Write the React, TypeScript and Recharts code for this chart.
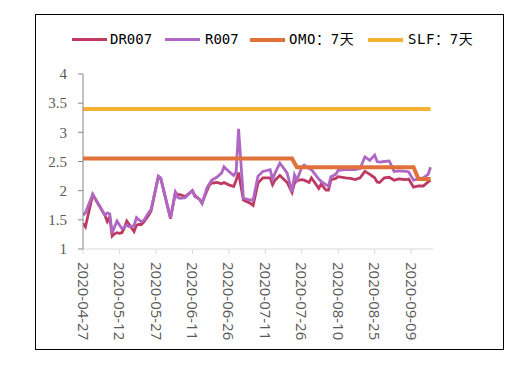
import React from 'react';
import { LineChart, Line, XAxis, YAxis } from 'recharts';

// day offsets from 2020-04-27
const dayOffsets = [
  0, 1, 4, 9, 10, 11, 12, 13, 14, 15, 16, 17, 18, 19, 21, 22, 23, 24, 25, 27, 28,
  31, 32, 36, 38, 39, 40, 42, 45, 46, 48, 49, 51, 52, 53, 55, 57, 58, 60, 62, 63,
  64, 66, 69, 70, 72, 74, 76, 77, 78, 79, 81, 83, 84, 86, 87, 88, 90, 91, 93, 94,
  97, 98, 100, 101, 102, 104, 105, 108, 110, 112, 114, 116, 118, 120, 121, 122,
  124, 126, 128, 130, 133, 134, 136, 138, 140, 142, 143,
];
const dr007 = [
  1.44, 1.38, 1.93, 1.58, 1.47, 1.55, 1.22, 1.26, 1.28, 1.27, 1.28, 1.36, 1.48, 1.42, 1.3, 1.41, 1.42, 1.42, 1.46, 1.58, 1.65,
  2.24, 2.2, 1.52, 1.97, 1.93, 1.93, 1.9, 2.0, 1.92, 1.85, 1.79, 2.0, 2.1, 2.13, 2.14, 2.12, 2.14, 2.1, 2.07, 2.18,
  2.31, 1.84, 1.78, 1.75, 2.13, 2.22, 2.22, 2.22, 2.1, 2.18, 2.26, 2.18, 2.14, 1.97, 2.13, 2.17, 2.19, 2.18, 2.14, 2.22,
  2.04, 2.11, 2.01, 2.01, 2.19, 2.21, 2.24, 2.22, 2.21, 2.19, 2.22, 2.33, 2.28, 2.22, 2.15, 2.14,
  2.22, 2.23, 2.18, 2.2, 2.19, 2.2, 2.06, 2.08, 2.08, 2.15, 2.18,
];
const r007 = [
  1.58, 1.62, 1.94, 1.58, 1.62, 1.6, 1.27, 1.38, 1.48, 1.41, 1.35, 1.37, 1.41, 1.38, 1.4, 1.54, 1.5, 1.47, 1.49, 1.62, 1.68,
  2.25, 2.22, 1.53, 1.97, 1.88, 1.87, 1.88, 2.0, 1.9, 1.85, 1.78, 2.05, 2.12, 2.18, 2.23, 2.3, 2.41, 2.33, 2.26, 2.32,
  3.06, 1.87, 1.84, 1.84, 2.25, 2.33, 2.35, 2.36, 2.2, 2.3, 2.47, 2.36, 2.3, 1.98, 2.27, 2.18, 2.4, 2.44, 2.38, 2.36,
  2.2, 2.16, 2.1, 2.08, 2.24, 2.28, 2.35, 2.36, 2.36, 2.36, 2.38, 2.58, 2.52, 2.61, 2.5, 2.49,
  2.5, 2.51, 2.33, 2.34, 2.33, 2.32, 2.18, 2.2, 2.22, 2.28, 2.4,
];
const omoDays = [0, 86, 88, 136, 138, 143];
const omoValues = [2.55, 2.55, 2.4, 2.4, 2.2, 2.2];
const slfDays = [0, 143];
const slfValues = [3.4, 3.4];

const xTickDays = [0, 15, 30, 45, 60, 75, 90, 105, 120, 135];
const xTickLabels = [
  '2020-04-27', '2020-05-12', '2020-05-27', '2020-06-11', '2020-06-26',
  '2020-07-11', '2020-07-26', '2020-08-10', '2020-08-25', '2020-09-09',
];
const yTicks = [1, 1.5, 2, 2.5, 3, 3.5, 4];
const seriesNames = ['DR007', 'R007', 'OMO：7天', 'SLF：7天'];
const seriesColors = ['#BE3A62', '#AE68C4', '#E2703A', '#F6B234'];

const drData = dayOffsets.map((d, i) => ({ d, v: dr007[i] }));
const rData = dayOffsets.map((d, i) => ({ d, v: r007[i] }));
const omoData = omoDays.map((d, i) => ({ d, v: omoValues[i] }));
const slfData = slfDays.map((d, i) => ({ d, v: slfValues[i] }));

const XTick = (props: any) => {
  const { x, y, payload } = props;
  const idx = xTickDays.indexOf(payload.value);
  return (
    <g transform={`translate(${x},${y})`}>
      <text
        transform="rotate(90)"
        x={0}
        y={0}
        dy="0.36em"
        textAnchor="start"
        fill="#595959"
        fontSize={15}
        fontFamily="'Open Sans', sans-serif"
      >
        {idx >= 0 ? xTickLabels[idx] : ''}
      </text>
    </g>
  );
};

const legendLayout = [
  { lx: 72, tx: 110 },
  { lx: 165, tx: 205 },
  { lx: 250, tx: 289 },
  { lx: 368, tx: 408 },
];

export default function App() {
  return (
    <div style={{ position: 'absolute', left: 0, top: 0, width: 520, height: 373, background: '#fff' }}>
      <div
        style={{
          position: 'absolute',
          left: 35,
          top: 14,
          width: 469,
          height: 336,
          boxSizing: 'border-box',
          border: '1px solid #000',
        }}
      />
      {seriesNames.map((name, i) => (
        <React.Fragment key={name}>
          <div
            style={{
              position: 'absolute',
              left: legendLayout[i].lx,
              top: i < 2 ? 38 : 37.5,
              width: 35,
              height: i < 2 ? 3 : 4,
              background: seriesColors[i],
            }}
          />
          <div
            style={{
              position: 'absolute',
              left: legendLayout[i].tx,
              top: 30,
              height: 18,
              lineHeight: '18px',
              fontSize: 14,
              letterSpacing: i >= 2 ? 0.6 : 0,
              fontFamily: "'DejaVu Sans Mono', 'Noto Sans CJK SC', monospace",
              color: '#000',
              whiteSpace: 'nowrap',
            }}
          >
            {name}
          </div>
        </React.Fragment>
      ))}
      <div style={{ position: 'absolute', left: 0, top: 0 }}>
        <LineChart width={520} height={373} margin={{ top: 74, right: 87, bottom: 0, left: 0 }}>
          <XAxis
            type="number"
            dataKey="d"
            domain={[0, 144]}
            ticks={xTickDays}
            interval={0}
            height={124}
            stroke="#D9D9D9"
            tickLine={{ stroke: '#D9D9D9' }}
            tickSize={5}
            tickMargin={8}
            tick={<XTick />}
            allowDataOverflow
          />
          <YAxis
            type="number"
            domain={[1, 4]}
            ticks={yTicks}
            interval={0}
            width={83}
            stroke="#868686"
            tickLine={{ stroke: '#868686' }}
            tickSize={5}
            tickMargin={11}
            tickFormatter={(v: number) => String(v)}
            tick={{ fill: '#595959', fontSize: 15, fontFamily: "'Liberation Serif', serif" }}
            allowDataOverflow
          />
          <Line data={slfData} dataKey="v" name={seriesNames[3]} stroke={seriesColors[3]} strokeWidth={4} dot={false} isAnimationActive={false} type="linear" />
          <Line data={drData} dataKey="v" name={seriesNames[0]} stroke={seriesColors[0]} strokeWidth={2.8} dot={false} isAnimationActive={false} type="linear" />
          <Line data={rData} dataKey="v" name={seriesNames[1]} stroke={seriesColors[1]} strokeWidth={2.8} dot={false} isAnimationActive={false} type="linear" />
          <Line data={omoData} dataKey="v" name={seriesNames[2]} stroke={seriesColors[2]} strokeWidth={4} dot={false} isAnimationActive={false} type="linear" />
        </LineChart>
      </div>
    </div>
  );
}
